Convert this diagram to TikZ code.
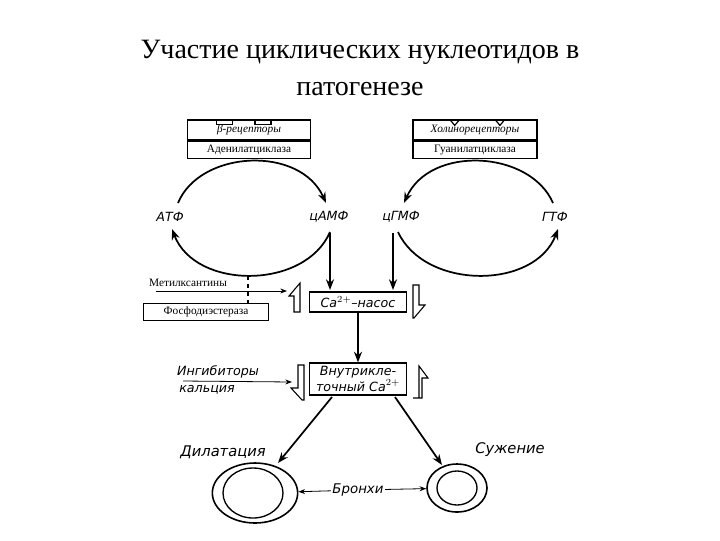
\documentclass[tikz,border=0pt]{standalone}
\usepackage{fontspec}
\setmainfont{Liberation Serif}
\setsansfont{DejaVu Sans}
\usetikzlibrary{arrows.meta,shapes.geometric}
\begin{document}
\begin{tikzpicture}[x=0.75pt,y=-0.75pt,
  lbl/.style={font=\sffamily\itshape\fontsize{9.5}{10}\selectfont, inner sep=1pt},
  rbox/.style={draw, line width=0.9pt, font=\fontsize{8.5}{9}\selectfont, inner sep=0pt, minimum height=13pt},
  arr/.style={line width=1.3pt, -{Stealth[length=8pt,width=6pt]}},
  hook/.style={draw, line width=0.8pt, fill=white}]
\useasboundingbox (0,0) rectangle (720,540);
\node[font=\fontsize{21}{28}\selectfont, align=center] (title) at (360,68) {Участие циклических нуклеотидов в\\патогенезе};

% receptor boxes
\node[rbox, minimum width=92pt, minimum height=15pt] (bet) at (249,130) {\raisebox{-3pt}{\itshape β-рецепторы}};
\node[rbox, minimum width=92pt, anchor=north] (ac) at (bet.south) {Аденилатциклаза};
\draw[line width=0.9pt] ([xshift=22]bet.north west) -- ++(0,5) -- ++(16,0) -- ++(0,-5)
      ([xshift=-42]bet.north east) -- ++(0,5) -- ++(16,0) -- ++(0,-5);
\node[rbox, minimum width=93pt, minimum height=15pt] (chol) at (475,130) {\raisebox{-3pt}{\itshape Холинорецепторы}};
\node[rbox, minimum width=93pt, anchor=north] (gc) at (chol.south) {Гуанилатциклаза};
\draw[line width=0.9pt] ([xshift=28]chol.north west) -- ++(5,6) -- ++(5,-6)
      ([xshift=-32]chol.north east) -- ++(5,6) -- ++(5,-6);

% nucleotides
\node[lbl] (atf) at (170,217) {АТФ};
\node[lbl] (camp) at (329,217) {цАМФ};
\node[lbl] (cgmp) at (401,217) {цГМФ};
\node[lbl] (gtf) at (555,217) {ГТФ};

% cycles
\draw[arr] (178,203) .. controls (200,150) and (300,145) .. (326,203);
\draw[arr] (330,232) .. controls (305,290) and (195,290) .. (172,229);
\draw[arr] (553,203) .. controls (530,150) and (430,145) .. (404,203);
\draw[arr] (398,232) .. controls (425,290) and (535,290) .. (558,229);

% Ca boxes
\node[draw, line width=0.9pt, lbl, minimum width=73pt, minimum height=15pt] (pump) at (358,302) {Ca$^{2+}$--насос};
\node[draw, line width=0.9pt, lbl, minimum width=73pt, minimum height=24pt, align=center] (ca) at (358,379) {Внутрикле-\\точный Ca$^{2+}$};
\draw[arr] (330,233) -- (330,290);
\draw[arr] (393,233) -- (393,290);
\draw[arr] (pump) -- (ca);

% hollow arrows
\draw[hook] (294,312) -- (300,312) -- (300,283) -- (289,296) -- (294,296) -- cycle;
\draw[hook] (413,285) -- (419,285) -- (419,305) -- (425,305) -- (414,318) -- (413,318) -- cycle;
\draw[hook] (298,365) -- (304,365) -- (304,400) -- (302,400) -- (291,388) -- (298,388) -- cycle;
\draw[hook] (413,398) -- (419,398) -- (419,366) -- (428,378) -- (422,378) -- (422,398) -- cycle;

% methylxanthines
\node[font=\fontsize{8.5}{9}\selectfont] (mx) at (188,283) {Метилксантины};
\coordinate (mxs) at (156,291);
\coordinate (mxe) at (287,291);
\draw[-{Stealth[length=5pt]}, line width=0.6pt] (mxs) -- (mxe);
\node[rbox, minimum width=94pt] (pde) at (206,312) {Фосфодиэстераза};
\draw[dashed, line width=1pt] (248,276) -- (pde.north -| 248,0);

% inhibitors
\node[lbl] (inh) at (218,372) {Ингибиторы};
\node[lbl] (kal) at (207,390) {кальция};
\coordinate (inhs) at (183,381);
\coordinate (inhe) at (292,382);
\draw[-{Stealth[length=5pt]}, line width=0.6pt] (inhs) -- (inhe);

% outcomes
\node[lbl, font=\sffamily\itshape\fontsize{11}{12}\selectfont] (dil) at (223,452) {Дилатация};
\node[lbl, font=\sffamily\itshape\fontsize{11}{12}\selectfont] (suz) at (510,450) {Сужение};
\draw[arr] (332,397) -- (278,463);
\draw[arr] (395,397) -- (442,465);

% bronchi
\node[draw, line width=1.2pt, ellipse, minimum width=64pt, minimum height=45pt, inner sep=0pt] (b1) at (255,493) {};
\draw[line width=1pt] (253,493) ellipse [x radius=30, y radius=25];
\node[draw, line width=1.2pt, ellipse, minimum width=45pt, minimum height=36pt, inner sep=0pt] (b2) at (457,488) {};
\draw[line width=1pt] (457,488) ellipse [x radius=20, y radius=17];
\node[lbl, font=\sffamily\itshape\fontsize{10}{11}\selectfont] (br) at (358,490) {Бронхи};
\draw[-{Stealth[length=5pt]}, line width=0.6pt] (br) -- (b1);
\draw[-{Stealth[length=5pt]}, line width=0.6pt] (br) -- (b2);
\end{tikzpicture}
\end{document}
